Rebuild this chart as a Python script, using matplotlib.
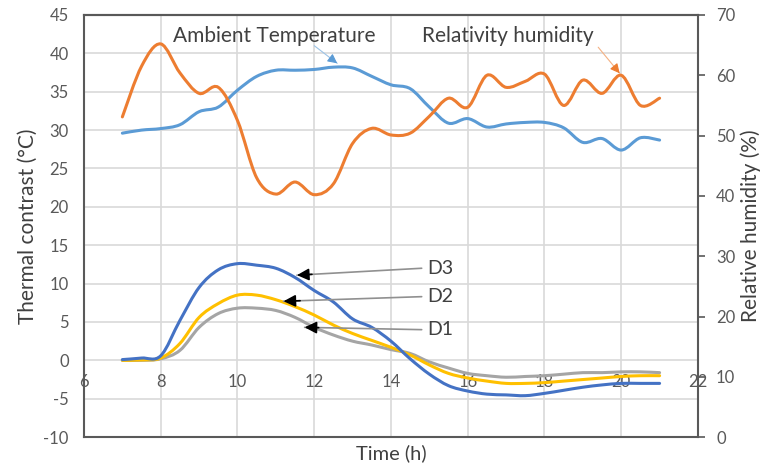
# Thermal contrast of defects D1-D3 with ambient temperature and humidity over a day
import matplotlib
matplotlib.use("Agg")
import matplotlib.pyplot as plt
import numpy as np
from matplotlib.path import Path
from matplotlib.patches import PathPatch

time_h = [7, 7.5, 8, 8.5, 9, 9.5, 10, 10.5, 11, 11.5, 12, 12.5, 13, 13.5, 14,
          14.5, 15, 15.5, 16, 16.5, 17, 17.5, 18, 18.5, 19, 19.5, 20, 20.5, 21]

ambient_temp = [29.6, 30.0, 30.2, 30.7, 32.4, 33.0, 35.2, 37.0, 37.8, 37.8, 37.9, 38.2,
                38.1, 37.0, 35.9, 35.4, 33.0, 30.9, 31.5, 30.4, 30.8, 31.0, 31.0, 30.3,
                28.4, 28.9, 27.4, 29.0, 28.7]

rel_humidity = [53.1, 61.5, 65.2, 60.4, 57.0, 58.0, 52.5, 43.0, 40.3, 42.3, 40.2, 42.0,
                48.7, 51.2, 50.1, 50.4, 53.2, 56.2, 54.7, 60.0, 58.0, 59.0, 60.2, 55.0,
                59.2, 57.0, 60.0, 55.0, 56.2]

d3 = [0.1, 0.3, 0.6, 5.2, 9.5, 11.8, 12.6, 12.4, 12.0, 10.8, 9.1, 7.6, 5.4, 4.3, 2.5,
      0.2, -1.8, -3.3, -4.0, -4.4, -4.5, -4.6, -4.3, -3.9, -3.5, -3.2, -3.0, -3.0, -3.0]
d2 = [0.0, 0.05, 0.3, 2.2, 5.6, 7.4, 8.5, 8.5, 7.9, 7.0, 5.9, 4.6, 3.5, 2.6, 1.7,
      0.7, -0.6, -1.7, -2.3, -2.7, -3.0, -3.0, -2.9, -2.7, -2.5, -2.3, -2.1, -2.0, -2.0]
d1 = [0.0, 0.0, 0.2, 1.3, 4.3, 6.1, 6.8, 6.8, 6.5, 5.6, 4.3, 3.3, 2.5, 2.0, 1.4,
      0.9, -0.2, -1.0, -1.7, -2.0, -2.2, -2.1, -2.0, -1.8, -1.6, -1.6, -1.5, -1.5, -1.6]

x_ticks = [6, 8, 10, 12, 14, 16, 18, 20, 22]
left_ticks = [-10, -5, 0, 5, 10, 15, 20, 25, 30, 35, 40, 45]
right_ticks = [0, 10, 20, 30, 40, 50, 60, 70]

plt.rcParams["font.family"] = ["Lato", "DejaVu Sans"]
plt.rcParams["axes.unicode_minus"] = False
TXT = "#404040"
TICK = "#595959"
GRID = "#d9d9d9"
FRAME = "#595959"


def smooth_line(axis, xs, ys, color, z):
    # Excel-style smoothed line: Catmull-Rom segments drawn as cubic Beziers
    p = np.column_stack([xs, ys]).astype(float)
    verts = [p[0]]
    codes = [Path.MOVETO]
    n = len(p)
    for i in range(n - 1):
        p0 = p[i - 1] if i > 0 else p[i]
        p3 = p[i + 2] if i + 2 < n else p[i + 1]
        c1 = p[i] + (p[i + 1] - p0) / 6.0
        c2 = p[i + 1] - (p3 - p[i]) / 6.0
        verts += [c1, c2, p[i + 1]]
        codes += [Path.CURVE4] * 3
    patch = PathPatch(Path(verts, codes), facecolor="none", edgecolor=color,
                      linewidth=2.2, zorder=z, capstyle="round")
    axis.add_patch(patch)


fig = plt.figure(figsize=(7.67, 4.68), dpi=100)
ax = fig.add_axes([0.1095, 0.066, 0.8005, 0.902])
ax2 = ax.twinx()

ax.set_xlim(6, 22)
ax.set_ylim(-10, 45)
ax2.set_ylim(0, 70)
ax.set_xticks(x_ticks)
ax.set_yticks(left_ticks)
ax2.set_yticks(right_ticks)
ax.grid(True, color=GRID, linewidth=1.2)
ax.set_axisbelow(True)

# x tick labels sit on the zero line, frame bottom stays at -10
ax.spines["bottom"].set_position(("data", 0))
ax.spines["bottom"].set_visible(False)
for s in ["left", "top"]:
    ax.spines[s].set_color(FRAME)
    ax.spines[s].set_linewidth(1.5)
ax.spines["right"].set_visible(False)
for s in ["bottom", "right", "top"]:
    ax2.spines[s].set_color(FRAME)
    ax2.spines[s].set_linewidth(1.5)
ax2.spines["left"].set_visible(False)

ax.tick_params(axis="x", length=0, pad=10, labelsize=12, labelcolor=TICK)
ax.tick_params(axis="y", length=0, pad=11, labelsize=12, labelcolor=TICK)
ax2.tick_params(axis="y", length=5, width=1.2, color=FRAME, pad=8,
                labelsize=12, labelcolor=TICK)

smooth_line(ax, time_h, d1, "#a5a5a5", 3)
smooth_line(ax, time_h, d2, "#ffc000", 4)
smooth_line(ax, time_h, d3, "#4472c4", 5)
smooth_line(ax, time_h, ambient_temp, "#5b9bd5", 3)
smooth_line(ax2, time_h, rel_humidity, "#ed7d31", 3)

ax.set_xlabel("Time (h)", fontsize=14.5, color=TXT)
ax.xaxis.set_label_coords(0.5, -0.018)
ax.set_ylabel("Thermal contrast (°C)", fontsize=15, color=TXT, labelpad=4)
ax2.set_ylabel("Relative humidity (%)", fontsize=15, color=TXT, labelpad=4)


def callout(xy, xytext, line_color, head_color, lw, size):
    ax2.annotate("", xy=xy, xytext=xytext, xycoords=ax.transData,
                 textcoords=ax.transData,
                 arrowprops=dict(arrowstyle="-", color=line_color, lw=lw,
                                 shrinkA=0, shrinkB=0))
    dx = xytext[0] - xy[0]
    dy = xytext[1] - xy[1]
    back = (xy[0] + dx * 0.12, xy[1] + dy * 0.12)
    ax2.annotate("", xy=xy, xytext=back, xycoords=ax.transData,
                 textcoords=ax.transData,
                 arrowprops=dict(arrowstyle="-|>", color=head_color, lw=lw,
                                 mutation_scale=size, shrinkA=0, shrinkB=0))


callout((12.6, 38.7), (12.0, 41.0), "#9dc3e6", "#5b9bd5", 0.8, 14)
ax2.text(10.95, 42.2, "Ambient Temperature", transform=ax.transData, fontsize=15,
         color=TXT, ha="center", va="center")
callout((19.96, 37.4), (19.4, 40.8), "#f4b183", "#ed7d31", 0.8, 14)
ax2.text(17.04, 42.2, "Relativity humidity", transform=ax.transData, fontsize=15,
         color=TXT, ha="center", va="center")

d_labels = ["D3", "D2", "D1"]
d_text_y = [12.0, 8.3, 4.0]
d_heads = [(11.55, 11.1), (11.2, 7.7), (11.75, 4.3)]
for lab, ty, head in zip(d_labels, d_text_y, d_heads):
    callout(head, (14.8, ty), "#909090", "black", 1.2, 18)
    ax2.text(14.95, ty, lab, transform=ax.transData, fontsize=14, color=TXT,
             ha="left", va="center")

fig.savefig("out.png", dpi=100)
